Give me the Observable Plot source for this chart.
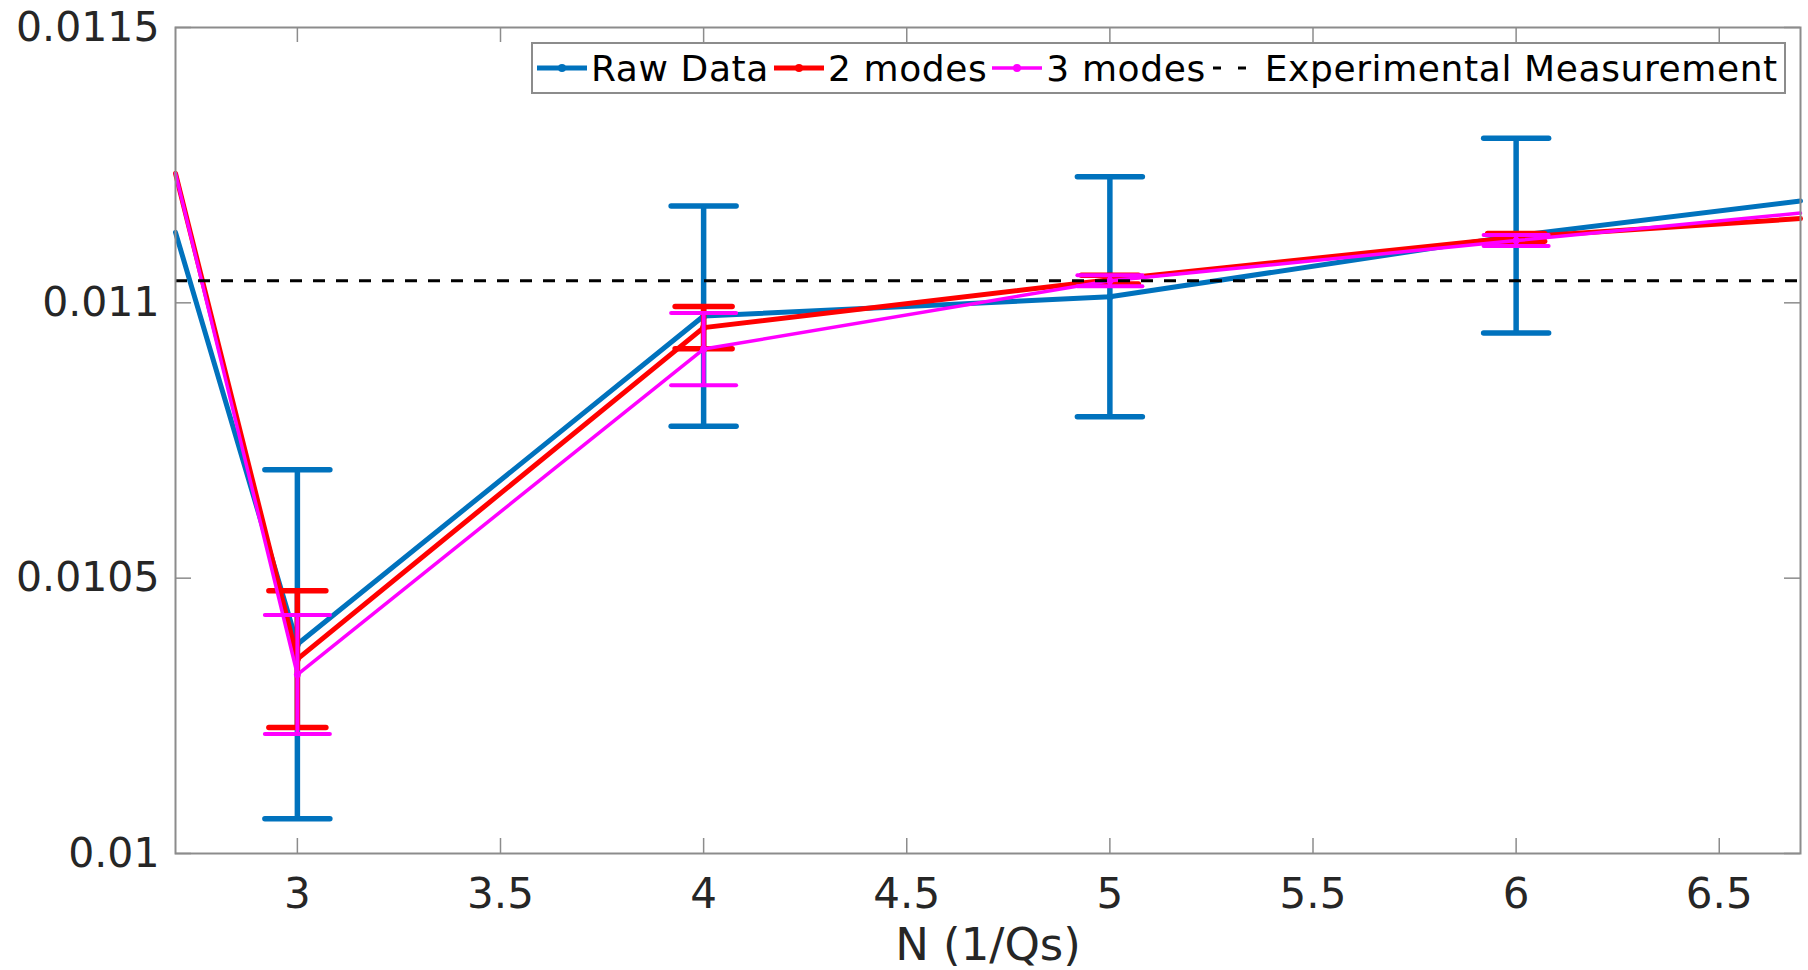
<!DOCTYPE html>
<html>
<head>
<meta charset="utf-8">
<script src="https://cdn.jsdelivr.net/npm/d3@7"></script>
<script src="https://cdn.jsdelivr.net/npm/@observablehq/plot@0.6"></script>
<style>
  body { margin: 0; background: #fff; }
  #wrap { position: relative; width: 1808px; height: 970px; }
  #legend {
    position: absolute; left: 531px; top: 42px;
    width: 1247px; height: 48px;
    border: 2px solid #8c8c8c; background: #fff;
    display: flex; align-items: center;
    font-family: "DejaVu Sans", sans-serif; font-size: 36px; color: #000;
    letter-spacing: 0.6px;
    white-space: nowrap; padding-left: 4px; box-sizing: content-box;
  }
  #legend .item { display: flex; align-items: center; }
  #legend svg { display: block; margin-right: 4px; }
  #legend span { margin-right: 5px; }
</style>
</head>
<body>
<div id="wrap"></div>
<script>
// Number of quantum oscillations per sample (x) and fitted value (y)
const N = [2.7, 3, 4, 5, 6, 6.7];

const rawData = [0.011128, 0.01038, 0.010976, 0.011011, 0.011122, 0.011185];
const rawErr = [null, 0.000317, 0.0002, 0.000218, 0.000177, null];

const twoModes = [0.011235, 0.010353, 0.010955, 0.011042, 0.011119, 0.011153];
const twoErr = [null, 0.000124, 0.0000385, 0.000008, 0.000007, null];

const threeModes = [0.011235, 0.010325, 0.010916, 0.01104, 0.011113, 0.011163];
const threeErr = [null, 0.000108, 0.0000657, 0.00001, 0.00001, null];

const experimental = 0.01104;

const xTicks = [3, 3.5, 4, 4.5, 5, 5.5, 6, 6.5];
const yTicks = [0.01, 0.0105, 0.011, 0.0115];

const seriesNames = ["Raw Data", "2 modes", "3 modes"];
const seriesColors = ["#0072BD", "#FF0000", "#FF00FF"];
const seriesValues = [rawData, twoModes, threeModes];
const seriesErrors = [rawErr, twoErr, threeErr];
const lineWidths = [5, 5, 3.5];
const capWidths = [65, 57, 65];

const W = 1808, H = 970;
const mL = 175, mR = 8, mT = 27, mB = 117;
const frameW = W - mL - mR, frameH = H - mT - mB;
const tickLen = 15;
const axisGray = "#8c8c8c";

// One row per point of each series
const series = seriesNames.map((name, i) =>
  N.map((n, j) => ({name, N: n, value: seriesValues[i][j], err: seriesErrors[i][j]}))
);

// Horizontal cap drawn centered on the end of each error bar
const capShape = {
  draw(context, l) { context.moveTo(0, 0); context.lineTo(0, -l); }
};

const seriesMarks = series.flatMap((rows, i) => {
  const color = seriesColors[i];
  const bars = rows.filter(d => d.err != null);
  const bw = lineWidths[i] + 0.5;
  return [
    Plot.ruleX(bars, {x: "N", y1: d => d.value - d.err, y2: d => d.value + d.err,
      stroke: color, strokeWidth: bw}),
    Plot.vector(bars, {x: "N", y: d => d.value + d.err, length: capWidths[i], rotate: 90,
      anchor: "middle", shape: capShape, stroke: color, strokeWidth: bw}),
    Plot.vector(bars, {x: "N", y: d => d.value - d.err, length: capWidths[i], rotate: 90,
      anchor: "middle", shape: capShape, stroke: color, strokeWidth: bw}),
    Plot.line(rows, {x: "N", y: "value", stroke: color, strokeWidth: lineWidths[i],
      strokeLinejoin: "round"}),
    Plot.dot(bars, {x: "N", y: "value", r: 3.5, fill: color, stroke: "none"})
  ];
});

const chart = Plot.plot({
  width: W, height: H,
  marginLeft: mL, marginRight: mR, marginTop: mT, marginBottom: mB,
  style: {fontFamily: "DejaVu Sans, sans-serif", fontSize: "41px", color: "#262626", background: "#fff"},
  x: {domain: [2.7, 6.7]},
  y: {domain: [0.01, 0.0115]},
  marks: [
    // inward ticks on all four sides
    Plot.tickX(xTicks, {x: d => d, insetTop: frameH - tickLen, stroke: axisGray, strokeWidth: 1.5}),
    Plot.tickX(xTicks, {x: d => d, insetBottom: frameH - tickLen, stroke: axisGray, strokeWidth: 1.5}),
    Plot.tickY(yTicks, {y: d => d, insetRight: frameW - tickLen - 1, stroke: axisGray, strokeWidth: 1.5}),
    Plot.tickY(yTicks, {y: d => d, insetLeft: frameW - tickLen - 1, stroke: axisGray, strokeWidth: 1.5}),
    Plot.axisX({ticks: xTicks, tickSize: 0, tickPadding: 25, tickFormat: d => String(d),
      label: null, fontSize: 42, fill: "#262626"}),
    Plot.axisY({ticks: yTicks, tickSize: 0, tickPadding: 16, tickFormat: d => String(d),
      label: null, fontSize: 41, fill: "#262626"}),
    Plot.text(["N (1/Qs)"], {frameAnchor: "bottom", lineAnchor: "middle", dy: 92,
      fontSize: 45, fill: "#262626"}),
    ...seriesMarks,
    Plot.ruleY([experimental], {stroke: "#000", strokeWidth: 3, strokeDasharray: "12,11"}),
    Plot.frame({stroke: axisGray, strokeWidth: 2})
  ]
});

const wrap = document.getElementById("wrap");
wrap.appendChild(chart);

// Legend box inside the plot area, top right
const legend = document.createElement("div");
legend.id = "legend";
const ns = "http://www.w3.org/2000/svg";
function sample(color, width, dashed) {
  const svg = document.createElementNS(ns, "svg");
  svg.setAttribute("width", 50);
  svg.setAttribute("height", 20);
  const line = document.createElementNS(ns, "line");
  line.setAttribute("x1", dashed ? 2 : 0);
  line.setAttribute("x2", dashed ? 48 : 50);
  line.setAttribute("y1", 10);
  line.setAttribute("y2", 10);
  line.setAttribute("stroke", color);
  line.setAttribute("stroke-width", width);
  if (dashed) line.setAttribute("stroke-dasharray", "8 17");
  svg.appendChild(line);
  if (!dashed) {
    const dot = document.createElementNS(ns, "circle");
    dot.setAttribute("cx", 25);
    dot.setAttribute("cy", 10);
    dot.setAttribute("r", 4);
    dot.setAttribute("fill", color);
    svg.appendChild(dot);
  }
  return svg;
}
const entries = seriesNames.map((name, i) => ({name, color: seriesColors[i], width: lineWidths[i], dashed: false}));
entries.push({name: "Experimental Measurement", color: "#000", width: 3, dashed: true});
for (const e of entries) {
  const item = document.createElement("div");
  item.className = "item";
  item.appendChild(sample(e.color, e.width, e.dashed));
  const label = document.createElement("span");
  label.textContent = e.name;
  item.appendChild(label);
  legend.appendChild(item);
}
wrap.appendChild(legend);
</script>
</body>
</html>
